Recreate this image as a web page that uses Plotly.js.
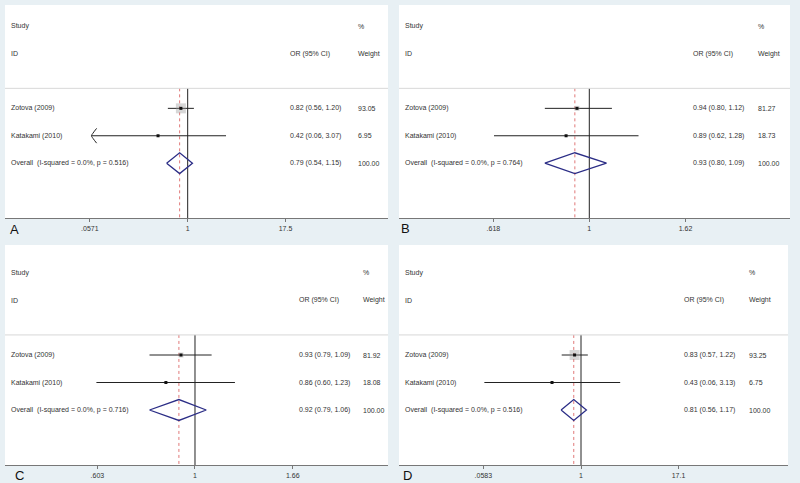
<!DOCTYPE html>
<html>
<head>
<meta charset="utf-8">
<script src="https://cdn.plot.ly/plotly-3.0.1.min.js"></script>
<style>html,body{margin:0;padding:0;background:#e8f0f4;}#chart{width:800px;height:483px;}</style>
</head>
<body>
<div id="chart"></div>
<script>
// ---------- data ----------
const studies = ["Zotova (2009)", "Katakami (2010)"];
const panelLetters = ["A", "B", "C", "D"];

const orA = [0.82, 0.42], loA = [0.56, 0.06], hiA = [1.20, 3.07], wA = [93.05, 6.95];
const orB = [0.94, 0.89], loB = [0.80, 0.62], hiB = [1.12, 1.28], wB = [81.27, 18.73];
const orC = [0.93, 0.86], loC = [0.79, 0.60], hiC = [1.09, 1.23], wC = [81.92, 18.08];
const orD = [0.83, 0.43], loD = [0.57, 0.06], hiD = [1.22, 3.13], wD = [93.25, 6.75];

const overallOR = [0.79, 0.93, 0.92, 0.81];
const overallLo = [0.54, 0.80, 0.79, 0.56];
const overallHi = [1.15, 1.09, 1.06, 1.17];
const overallW = [100.00, 100.00, 100.00, 100.00];
const iSquared = ["0.0%", "0.0%", "0.0%", "0.0%"];
const pValues = ["0.516", "0.764", "0.716", "0.516"];

const tickValsA = [0.0571, 1, 17.5], tickTextA = [".0571", "1", "17.5"];
const tickValsB = [0.618, 1, 1.62], tickTextB = [".618", "1", "1.62"];
const tickValsC = [0.603, 1, 1.66], tickTextC = [".603", "1", "1.66"];
const tickValsD = [0.0583, 1, 17.1], tickTextD = [".0583", "1", "17.1"];

// study CI truncated with an arrow on the left (as drawn)
const arrowLeftA = [false, true], arrowLeftB = [false, false], arrowLeftC = [false, false], arrowLeftD = [false, false];

// ---------- layout / style (pixels) ----------
const W = 800, H = 483;
const panels = [
  {or: orA, lo: loA, hi: hiA, w: wA, tv: tickValsA, tt: tickTextA, arrow: arrowLeftA,
   px: [5, 388], py: [5, 218], range: [-2.321, 2.545], yr: [7, -0.77], textX: 9, orX: 288, wX: 356, box: 10, letter: [14.5, 229]},
  {or: orB, lo: loB, hi: hiB, w: wB, tv: tickValsB, tt: tickTextB, arrow: arrowLeftB,
   px: [399, 790], py: [5, 218], range: [-0.4146, 0.4372], yr: [7, -0.77], textX: 403, orX: 691, wX: 756, box: 5, letter: [406, 228]},
  {or: orC, lo: loC, hi: hiC, w: wC, tv: tickValsC, tt: tickTextC, arrow: arrowLeftC,
   px: [5, 388], py: [245, 465], range: [-0.4276, 0.4344], yr: [7, -1.0], textX: 9, orX: 297, wX: 361, box: 5, letter: [19.5, 475]},
  {or: orD, lo: loD, hi: hiD, w: wD, tv: tickValsD, tt: tickTextD, arrow: arrowLeftD,
   px: [399, 788], py: [245, 465], range: [-2.301, 2.617], yr: [7, -1.0], textX: 403, orX: 682, wX: 747, box: 10, letter: [407.5, 475]}
];

const ROW_STUDY = 0, ROW_ID = 1, ROW_SEP = 2.27, ROW_FIRST = 3, ROW_AXIS = 7;
const FONT = "Liberation Sans, Arial, sans-serif";
const TXT = {family: FONT, size: 7, color: "#333"};

const traces = [];
const annotations = [];
const shapes = [];
const layout = {
  width: W, height: H,
  margin: {l: 0, r: 0, t: 0, b: 0, pad: 0},
  paper_bgcolor: "#e8f0f4",
  plot_bgcolor: "#ffffff",
  showlegend: false,
  font: {family: FONT, size: 7, color: "#333"}
};

function fmt(v) { return v.toFixed(2); }

panels.forEach((p, i) => {
  const n = i + 1;
  const xa = n === 1 ? "x" : "x" + n;
  const ya = n === 1 ? "y" : "y" + n;
  const xk = n === 1 ? "xaxis" : "xaxis" + n;
  const yk = n === 1 ? "yaxis" : "yaxis" + n;
  layout[xk] = {
    type: "log", domain: [p.px[0] / W, p.px[1] / W], range: p.range, anchor: ya,
    showgrid: false, zeroline: false, showline: true, linecolor: "#777", linewidth: 1.2,
    ticks: "outside", ticklen: 3, tickcolor: "#777", tickwidth: 1,
    tickmode: "array", tickvals: p.tv, ticktext: p.tt,
    tickfont: {family: FONT, size: 7, color: "#333"}, fixedrange: true
  };
  layout[yk] = {
    domain: [1 - p.py[1] / H, 1 - p.py[0] / H], range: p.yr, anchor: xa,
    showgrid: false, zeroline: false, showline: false, showticklabels: false, ticks: "", fixedrange: true
  };

  // separator line
  shapes.push({type: "line", xref: xa + " domain", yref: ya, x0: 0, x1: 1, y0: ROW_SEP, y1: ROW_SEP,
    line: {color: "#d8d8d8", width: 1}});

  // no-effect line at 1
  traces.push({x: [1, 1], y: [ROW_SEP, ROW_AXIS], xaxis: xa, yaxis: ya, mode: "lines",
    line: {color: "#222", width: 1}, hoverinfo: "skip"});
  // overall estimate dashed line
  traces.push({x: [overallOR[i], overallOR[i]], y: [ROW_SEP, ROW_AXIS], xaxis: xa, yaxis: ya, mode: "lines",
    line: {color: "#e07878", width: 1, dash: "dot"}, hoverinfo: "skip"});

  const rows = studies.map((s, k) => ROW_FIRST + k);
  // CI lines
  studies.forEach((s, k) => {
    traces.push({x: [p.lo[k], p.hi[k]], y: [rows[k], rows[k]], xaxis: xa, yaxis: ya, mode: "lines",
      line: {color: "#222", width: 1}, hoverinfo: "skip"});
    if (p.arrow[k]) {
      const f = Math.pow(10, 0.065);
      traces.push({x: [p.lo[k] * f, p.lo[k] * Math.pow(10, 0.02), p.lo[k], p.lo[k] * Math.pow(10, 0.02), p.lo[k] * f],
        y: [rows[k] - 0.27, rows[k] - 0.1, rows[k], rows[k] + 0.1, rows[k] + 0.27],
        xaxis: xa, yaxis: ya, mode: "lines", line: {color: "#222", width: 1, shape: "spline"}, hoverinfo: "skip"});
    }
  });
  // weight boxes
  traces.push({x: p.or, y: rows, xaxis: xa, yaxis: ya, mode: "markers",
    marker: {symbol: "square", size: p.w.map((w, k) => k === 0 ? p.box : 0), color: "rgba(150,150,150,0.55)", line: {width: 0}},
    hoverinfo: "skip"});
  // point estimates
  traces.push({x: p.or, y: rows, xaxis: xa, yaxis: ya, mode: "markers",
    marker: {symbol: "square", size: 3, color: "#111"}, hoverinfo: "skip"});

  // overall diamond
  const ro = ROW_FIRST + studies.length;
  const h = 0.38;
  traces.push({x: [overallLo[i], overallOR[i], overallHi[i], overallOR[i], overallLo[i]],
    y: [ro, ro - h, ro, ro + h, ro], xaxis: xa, yaxis: ya, mode: "lines",
    line: {color: "#2b2d86", width: 1.3}, hoverinfo: "skip"});

  // text columns
  const addText = (text, xpx, row, font) => annotations.push({
    text: text, xref: "paper", yref: ya, x: xpx / W, y: row, xanchor: "left", yanchor: "middle",
    showarrow: false, font: font || TXT
  });
  addText("Study", p.textX, ROW_STUDY);
  addText("ID", p.textX, ROW_ID);
  addText("OR (95% CI)", p.orX, ROW_ID);
  addText("%", p.wX, ROW_STUDY);
  addText("Weight", p.wX, ROW_ID);
  studies.forEach((s, k) => {
    addText(s, p.textX, rows[k]);
    addText(fmt(p.or[k]) + " (" + fmt(p.lo[k]) + ", " + fmt(p.hi[k]) + ")", p.orX, rows[k]);
    addText(fmt(p.w[k]), p.wX, rows[k]);
  });
  addText("Overall  (I-squared = " + iSquared[i] + ", p = " + pValues[i] + ")", p.textX, ro);
  addText(fmt(overallOR[i]) + " (" + fmt(overallLo[i]) + ", " + fmt(overallHi[i]) + ")", p.orX, ro);
  addText(fmt(overallW[i]), p.wX, ro);

  // panel letter
  annotations.push({text: panelLetters[i], xref: "paper", yref: "paper",
    x: p.letter[0] / W, y: 1 - p.letter[1] / H, xanchor: "center", yanchor: "middle",
    showarrow: false, font: {family: FONT, size: 13, color: "#111"}});
});

layout.annotations = annotations;
layout.shapes = shapes;

Plotly.newPlot("chart", traces, layout, {displayModeBar: false, staticPlot: true});
</script>
</body>
</html>
